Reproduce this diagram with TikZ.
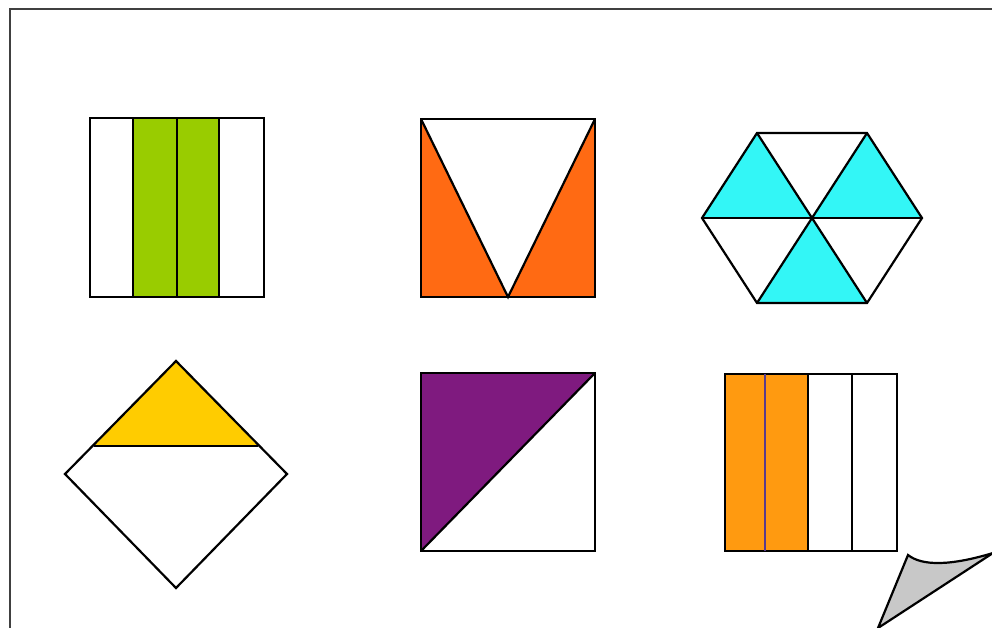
\documentclass[tikz,border=0pt]{standalone}
\begin{document}
\begin{tikzpicture}[x=1pt,y=-1pt,line join=miter,
  edge/.style={draw=black,line width=2.2pt}]
\definecolor{cgreen}{HTML}{99CC00}
\definecolor{corangeA}{HTML}{FF6A13}
\definecolor{ccyan}{HTML}{33F6F6}
\definecolor{cyellow}{HTML}{FFCC00}
\definecolor{cpurple}{HTML}{7F1A7F}
\definecolor{corangeB}{HTML}{FF9A10}
\definecolor{cframe}{HTML}{404040}
\definecolor{ccurl}{HTML}{C8C8C8}
\definecolor{cviolet}{HTML}{5A3C8C}
\useasboundingbox (0,0) rectangle (992,627);
\fill[white] (0,0) rectangle (992,627);
% frame
\draw[cframe,line width=2.2pt] (10,640) -- (10,9) -- (1000,9);
% shape 1: green strips
\fill[cgreen] (133,118) rectangle (219,297);
\draw[edge] (90,118) rectangle (264,297);
\draw[edge] (133,118) -- (133,297);
\draw[edge] (177,118) -- (177,297);
\draw[edge] (219,118) -- (219,297);
% shape 2: orange triangles
\coordinate (s2a) at (421,119);
\coordinate (s2b) at (595,119);
\coordinate (s2c) at (595,297);
\coordinate (s2d) at (421,297);
\coordinate (s2m) at (508,297);
\fill[corangeA] (s2a) -- (s2m) -- (s2d) -- cycle;
\fill[corangeA] (s2b) -- (s2m) -- (s2c) -- cycle;
\draw[edge] (s2a) rectangle (s2c);
\draw[edge] (s2a) -- (s2m) -- (s2b);
% shape 3: hexagon
\coordinate (hc) at (812,218);
\coordinate (h1) at (922,218);
\coordinate (h2) at (867,133);
\coordinate (h3) at (757,133);
\coordinate (h4) at (702,218);
\coordinate (h5) at (757,303);
\coordinate (h6) at (867,303);
\fill[ccyan] (h3) -- (h4) -- (hc) -- cycle;
\fill[ccyan] (h2) -- (hc) -- (h1) -- cycle;
\fill[ccyan] (hc) -- (h5) -- (h6) -- cycle;
\draw[edge] (h1) -- (h2) -- (h3) -- (h4) -- (h5) -- (h6) -- cycle;
\draw[edge] (h1) -- (h4);
\draw[edge] (h2) -- (h5);
\draw[edge] (h3) -- (h6);
% shape 4: diamond
\coordinate (dt) at (176,361);
\coordinate (dl) at (65,474);
\coordinate (dr) at (287,474);
\coordinate (db) at (176,588);
\coordinate (dml) at (94,446);
\coordinate (dmr) at (258,446);
\fill[cyellow] (dt) -- (dml) -- (dmr) -- cycle;
\draw[edge] (dt) -- (dr) -- (db) -- (dl) -- cycle;
\draw[edge] (dml) -- (dmr);
% shape 5: purple half
\coordinate (p1) at (421,373);
\coordinate (p2) at (595,373);
\coordinate (p3) at (595,551);
\coordinate (p4) at (421,551);
\fill[cpurple] (p1) -- (p2) -- (p4) -- cycle;
\draw[edge] (p1) rectangle (p3);
\draw[edge] (p2) -- (p4);
% shape 6: orange strips
\fill[corangeB] (725,374) rectangle (808,551);
\draw[edge] (725,374) rectangle (897,551);
\draw[edge,draw=cviolet,line width=1.8pt] (765,374) -- (765,551);
\draw[edge] (808,374) -- (808,551);
\draw[edge] (852,374) -- (852,551);
% page curl
\coordinate (c1) at (908,555);
\coordinate (c2) at (993,553);
\coordinate (c3) at (878,628);
\filldraw[fill=ccurl,draw=black,line width=2.2pt] (c1) .. controls (922,566) and (950,566) .. (c2) -- (c3) -- cycle;
\end{tikzpicture}
\end{document}
